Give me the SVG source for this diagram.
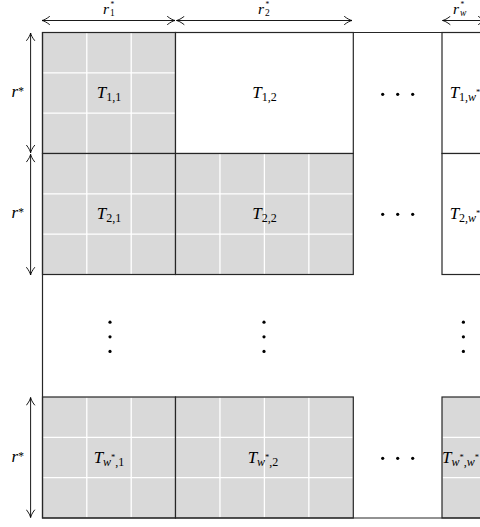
<svg xmlns="http://www.w3.org/2000/svg" width="480" height="527" viewBox="0 0 480 527">
<style>
.g{fill:#d9d9d9}
.w{fill:#ffffff}
.b{fill:none;stroke:#262626;stroke-width:1.2}
.wl{stroke:#ffffff;stroke-width:1.3;fill:none}
.arr{stroke:#000;stroke-width:0.9;fill:none;marker-start:url(#ah);marker-end:url(#ah)}
.t{font-family:"Liberation Serif",serif;font-style:italic;font-size:17px;fill:#000}
.tr{font-family:"Liberation Serif",serif;font-style:italic;font-size:15.5px;fill:#000}
.s{font-style:normal;font-size:12px}
.si{font-style:italic;font-size:12px}
.st{font-style:normal;font-size:8.5px}
.lab{font-style:normal;font-size:11.5px}
.sup{font-family:"Liberation Serif",serif;font-style:normal;font-size:7.5px;fill:#000}
.sub{font-family:"Liberation Serif",serif;font-style:normal;font-size:9.5px;fill:#000}
.subi{font-family:"Liberation Serif",serif;font-style:italic;font-size:9.5px;fill:#000}
.dot{fill:#000}
</style>
<defs>
<marker id="ah" markerUnits="userSpaceOnUse" viewBox="-9 -5 10 10" refX="0" refY="0" markerWidth="10" markerHeight="10" orient="auto-start-reverse">
<path d="M-7.5,-4 C-4.5,-1.6 -1.8,-0.4 0,0 C-1.8,0.4 -4.5,1.6 -7.5,4" fill="none" stroke="#000" stroke-width="0.9" stroke-linecap="round"/>
</marker>
</defs>

<g id="tile-1-1">
<rect class="g" x="42.5" y="32.5" width="133" height="121"/>
<path class="wl" d="M86.8,33 V153 M131.2,33 V153 M43,72.8 H175 M43,113.2 H175"/>
<rect class="b" x="42.5" y="32.5" width="133" height="121"/>
<text class="t" x="109" y="98" text-anchor="middle">T<tspan class="s" dy="3">1,1</tspan></text>
</g>
<g id="tile-1-2">
<rect class="w" x="175.5" y="32.5" width="177.8" height="121"/>
<rect class="b" x="175.5" y="32.5" width="177.8" height="121"/>
<text class="t" x="264.4" y="98" text-anchor="middle">T<tspan class="s" dy="3">1,2</tspan></text>
</g>
<g id="tile-1-w">
<rect class="w" x="442" y="32.5" width="44.4" height="121"/>
<rect class="b" x="442" y="32.5" width="44.4" height="121"/>
<text class="t" x="465" y="98" text-anchor="middle">T<tspan class="s" dy="3">1,</tspan><tspan class="si">w</tspan><tspan class="st" dy="-6">*</tspan></text>
</g>

<g id="tile-2-1">
<rect class="g" x="42.5" y="153.5" width="133" height="121"/>
<path class="wl" d="M86.8,154 V274 M131.2,154 V274 M43,193.8 H175 M43,234.2 H175"/>
<rect class="b" x="42.5" y="153.5" width="133" height="121"/>
<text class="t" x="109" y="219" text-anchor="middle">T<tspan class="s" dy="3">2,1</tspan></text>
</g>
<g id="tile-2-2">
<rect class="g" x="175.5" y="153.5" width="177.8" height="121"/>
<path class="wl" d="M219.95,154 V274 M264.4,154 V274 M308.85,154 V274 M176,193.8 H352.8 M176,234.2 H352.8"/>
<rect class="b" x="175.5" y="153.5" width="177.8" height="121"/>
<text class="t" x="264.4" y="219" text-anchor="middle">T<tspan class="s" dy="3">2,2</tspan></text>
</g>
<g id="tile-2-w">
<rect class="w" x="442" y="153.5" width="44.4" height="121"/>
<rect class="b" x="442" y="153.5" width="44.4" height="121"/>
<text class="t" x="465" y="219" text-anchor="middle">T<tspan class="s" dy="3">2,</tspan><tspan class="si">w</tspan><tspan class="st" dy="-6">*</tspan></text>
</g>

<g id="tile-w-1">
<rect class="g" x="42.5" y="397" width="133" height="121"/>
<path class="wl" d="M86.8,397.5 V517.5 M131.2,397.5 V517.5 M43,437.3 H175 M43,477.7 H175"/>
<rect class="b" x="42.5" y="397" width="133" height="121"/>
<text class="t" x="109" y="462.5" text-anchor="middle">T<tspan class="si" dy="3">w</tspan><tspan class="st" dy="-6">*</tspan><tspan class="s" dy="6">,1</tspan></text>
</g>
<g id="tile-w-2">
<rect class="g" x="175.5" y="397" width="177.8" height="121"/>
<path class="wl" d="M219.95,397.5 V517.5 M264.4,397.5 V517.5 M308.85,397.5 V517.5 M176,437.3 H352.8 M176,477.7 H352.8"/>
<rect class="b" x="175.5" y="397" width="177.8" height="121"/>
<text class="t" x="263" y="462.5" text-anchor="middle">T<tspan class="si" dy="3">w</tspan><tspan class="st" dy="-6">*</tspan><tspan class="s" dy="6">,2</tspan></text>
</g>
<g id="tile-w-w">
<rect class="g" x="442" y="397" width="44.4" height="121"/>
<path class="wl" d="M442.5,437.3 H486 M442.5,477.7 H486"/>
<rect class="b" x="442" y="397" width="44.4" height="121"/>
<text class="t" x="442" y="462.5">T<tspan class="si" dy="3">w</tspan><tspan class="st" dy="-6">*</tspan><tspan class="s" dy="6">,</tspan><tspan class="si">w</tspan><tspan class="st" dy="-6">*</tspan></text>
</g>

<g id="frame">
<path class="b" d="M490,32.5 H42.5 V518 H490"/>
</g>

<g id="ellipses">
<circle class="dot" cx="382.7" cy="94.3" r="1.6"/>
<circle class="dot" cx="397.7" cy="94.3" r="1.6"/>
<circle class="dot" cx="412.7" cy="94.3" r="1.6"/>
<circle class="dot" cx="382.7" cy="214.3" r="1.6"/>
<circle class="dot" cx="397.7" cy="214.3" r="1.6"/>
<circle class="dot" cx="412.7" cy="214.3" r="1.6"/>
<circle class="dot" cx="382.7" cy="458.3" r="1.6"/>
<circle class="dot" cx="397.7" cy="458.3" r="1.6"/>
<circle class="dot" cx="412.7" cy="458.3" r="1.6"/>
<circle class="dot" cx="110" cy="322.2" r="1.6"/>
<circle class="dot" cx="110" cy="336.8" r="1.6"/>
<circle class="dot" cx="110" cy="351.4" r="1.6"/>
<circle class="dot" cx="264" cy="322.2" r="1.6"/>
<circle class="dot" cx="264" cy="336.8" r="1.6"/>
<circle class="dot" cx="264" cy="351.4" r="1.6"/>
<circle class="dot" cx="463.4" cy="322.2" r="1.6"/>
<circle class="dot" cx="463.4" cy="336.8" r="1.6"/>
<circle class="dot" cx="463.4" cy="351.4" r="1.6"/>
</g>

<g id="connectors">
<line class="arr" x1="42" y1="20.5" x2="175" y2="20.5"/>
<line class="arr" x1="176.5" y1="20.5" x2="352" y2="20.5"/>
<line class="arr" x1="442.5" y1="20.5" x2="486" y2="20.5"/>
<line class="arr" x1="30.6" y1="33" x2="30.6" y2="152.8"/>
<line class="arr" x1="30.6" y1="154.3" x2="30.6" y2="275"/>
<line class="arr" x1="30.6" y1="397.5" x2="30.6" y2="517.5"/>
</g>

<g id="labels">
<text class="tr" x="103" y="13.8">r</text><text class="sup" x="110.5" y="6.8">*</text><text class="sub" x="110" y="16">1</text>
<text class="tr" x="258" y="13.8">r</text><text class="sup" x="265.5" y="6.8">*</text><text class="sub" x="265" y="16">2</text>
<text class="tr" x="453" y="13.8">r</text><text class="sup" x="460.5" y="6.8">*</text><text class="subi" x="460" y="16">w</text>
<text class="t" x="11.5" y="97">r<tspan class="lab" dy="-2">*</tspan></text>
<text class="t" x="11.5" y="218">r<tspan class="lab" dy="-2">*</tspan></text>
<text class="t" x="11.5" y="461.5">r<tspan class="lab" dy="-2">*</tspan></text>
</g>
</svg>
